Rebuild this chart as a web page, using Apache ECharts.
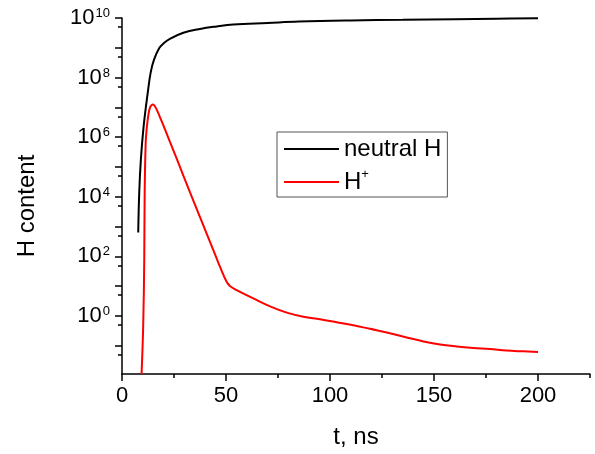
<!DOCTYPE html>
<html>
<head>
<meta charset="utf-8">
<script src="https://cdn.jsdelivr.net/npm/echarts@6/dist/echarts.min.js"></script>
<style>
html,body{margin:0;padding:0;background:#fff;}
#chart{width:595px;height:454px;}
</style>
</head>
<body>
<div id="chart"></div>
<script>
// time (ns) and H content for neutral hydrogen
var neutralT = [7.8, 8.3, 9.1, 10.4, 12.4, 13.8, 15.4, 18, 20, 23, 29.5, 37.5, 45.5, 53.5, 70, 85, 110, 135, 160, 180, 200];
var neutralH = [6.3e2, 1.5e4, 1.9e5, 2.3e6, 3.2e7, 1.5e8, 4.0e8, 1.0e9, 1.4e9, 2.0e9, 3.2e9, 4.3e9, 5.2e9, 6.0e9, 6.8e9, 7.6e9, 8.3e9, 8.7e9, 9.1e9, 9.5e9, 9.9e9];
// time (ns) and H+ content
var ionT = [9.4, 10.2, 10.7, 10.9, 11.4, 11.9, 12.6, 13.5, 14.9, 16.5, 19, 21, 23, 26.3, 32.7, 39.1, 45.5, 47.1, 50.3, 52, 55.1, 63.1, 71.2, 79.2, 87.2, 95.2, 103.2, 111.2, 119.2, 127.3, 136.9, 144.9, 152.9, 160.9, 168.9, 176.9, 184.9, 192.9, 200];
var ionH = [0.0113, 0.5, 85, 1.5e4, 6.8e5, 2.0e6, 5.1e6, 1.0e7, 1.25e7, 8.9e6, 3.5e6, 1.6e6, 7.1e5, 1.9e5, 1.4e4, 1.1e3, 85, 45, 14, 10, 7.4, 3.9, 2.1, 1.3, 0.95, 0.78, 0.62, 0.49, 0.37, 0.28, 0.19, 0.14, 0.11, 0.095, 0.085, 0.078, 0.069, 0.065, 0.062];
// axes
var xMajorTicks = [0, 50, 100, 150, 200];
var xMinorTicks = [25, 75, 125, 175, 225];
var yMajorTicks = [0.1, 1, 10, 1e2, 1e3, 1e4, 1e5, 1e6, 1e7, 1e8, 1e9, 1e10];
var yLabelTicks = [1, 1e2, 1e4, 1e6, 1e8, 1e10];
var yMinorTicks = [0.05, 0.5, 5, 50, 5e2, 5e3, 5e4, 5e5, 5e6, 5e7, 5e8, 5e9];
var seriesNames = ['neutral H', 'H+'];
var xTitle = 't, ns';
var yTitle = 'H content';

function pairs(xs, ys) { return xs.map(function (x, i) { return [x, ys[i]]; }); }

var FONT = 'Liberation Sans, Arial, sans-serif';
var chart = echarts.init(document.getElementById('chart'));
chart.setOption({
  animation: false,
  backgroundColor: '#fff',
  grid: { left: 122, right: 5, top: 18, bottom: 78 },
  xAxis: [{
    type: 'value', min: 0, max: 225, interval: 50,
    name: xTitle, nameLocation: 'middle', nameGap: 51,
    nameTextStyle: { fontFamily: FONT, fontSize: 24, color: '#000' },
    axisLine: { lineStyle: { color: '#000', width: 1.5 } },
    axisTick: { show: true, length: 7, lineStyle: { color: '#000', width: 1.5 }, customValues: xMajorTicks },
    axisLabel: { fontFamily: FONT, fontSize: 22, color: '#000', margin: 11, customValues: xMajorTicks },
    splitLine: { show: false }
  }, {
    type: 'value', min: 0, max: 225, position: 'bottom',
    axisLine: { show: false },
    axisTick: { show: true, length: 4, lineStyle: { color: '#000', width: 1.5 }, customValues: xMinorTicks },
    axisLabel: { show: false },
    splitLine: { show: false }
  }],
  yAxis: [{
    type: 'log', logBase: 10, min: 0.0113, max: 1e10,
    axisLine: { show: true, lineStyle: { color: '#000', width: 1.5 } },
    axisTick: { show: true, length: 7, lineStyle: { color: '#000', width: 1.5 }, customValues: yMajorTicks },
    axisLabel: {
      margin: 12, customValues: yLabelTicks,
      formatter: function (v) {
        var e = Math.round(Math.log10(v));
        return '{b|10}{s|' + e + '}';
      },
      rich: {
        b: { fontFamily: FONT, fontSize: 22, color: '#000' },
        s: { fontFamily: FONT, fontSize: 13, color: '#000', verticalAlign: 'top', padding: [0, 0, 0, 1] }
      }
    },
    splitLine: { show: false }
  }, {
    type: 'log', logBase: 10, min: 0.0113, max: 1e10, position: 'left',
    axisLine: { show: false },
    axisTick: { show: true, length: 4, lineStyle: { color: '#000', width: 1.5 }, customValues: yMinorTicks },
    axisLabel: { show: false },
    splitLine: { show: false }
  }],
  legend: {
    orient: 'vertical', left: 277, top: 132,
    padding: [3, 6, 1, 7],
    itemGap: 5, itemWidth: 55, itemHeight: 2, icon: 'rect',
    borderColor: '#555', borderWidth: 1,
    data: seriesNames,
    formatter: function (n) { return n === 'H+' ? '{b|H}{s|+}' : '{b|' + n + '}'; },
    textStyle: {
      fontFamily: FONT, fontSize: 24, color: '#000', lineHeight: 28,
      rich: {
        b: { fontFamily: FONT, fontSize: 24, color: '#000', lineHeight: 28 },
        s: { fontFamily: FONT, fontSize: 13, color: '#000', verticalAlign: 'top', lineHeight: 14 }
      }
    }
  },
  graphic: [{
    type: 'text', x: 27.5, y: 206, rotation: Math.PI / 2,
    style: { text: yTitle, fontFamily: FONT, fontSize: 24, fill: '#000', align: 'center', verticalAlign: 'middle' }
  }],
  series: [{
    name: seriesNames[0], type: 'line', data: pairs(neutralT, neutralH),
    showSymbol: false, symbol: 'none', smooth: 0.4,
    lineStyle: { color: '#000', width: 2 }, itemStyle: { color: '#000' }
  }, {
    name: seriesNames[1], type: 'line', data: pairs(ionT, ionH),
    showSymbol: false, symbol: 'none', smooth: 0.4,
    lineStyle: { color: '#ff0000', width: 2 }, itemStyle: { color: '#ff0000' }
  }]
});
</script>
</body>
</html>
